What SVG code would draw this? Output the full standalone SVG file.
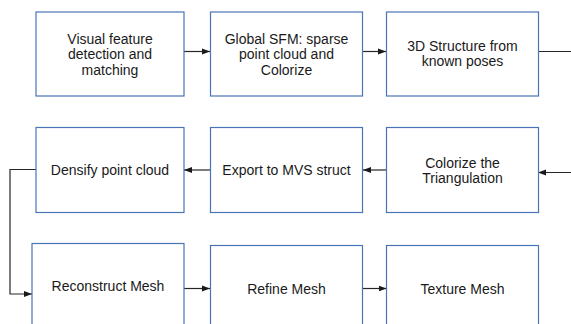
<svg xmlns="http://www.w3.org/2000/svg" width="571" height="324" viewBox="0 0 571 324">
<style>
.box{fill:#fff;stroke:#4a74b8;stroke-width:1.2}
.t{font-family:"Liberation Sans",Arial,sans-serif;font-size:14px;fill:#1a1a1a;text-anchor:middle}
.c{fill:none;stroke:#262626;stroke-width:1.2}
</style>
<defs>
<marker id="ah" markerUnits="userSpaceOnUse" markerWidth="8" markerHeight="8" viewBox="0 0 8 8" refX="8" refY="4" orient="auto">
<path d="M0,1 L8,4 L0,7 Z" fill="#1a1a1a"/>
</marker>
</defs>
<rect width="571" height="324" fill="#fff"/>
<g id="connectors">
<path class="c" d="M184,51.5 H210" marker-end="url(#ah)"/>
<path class="c" d="M363,51.5 H386" marker-end="url(#ah)"/>
<path class="c" d="M538,51.5 H571"/>
<path class="c" d="M571,172.5 H538" marker-end="url(#ah)"/>
<path class="c" d="M386,170 H363" marker-end="url(#ah)"/>
<path class="c" d="M210,170 H184" marker-end="url(#ah)"/>
<path class="c" d="M36,169.5 H10 V294 H32" marker-end="url(#ah)"/>
<path class="c" d="M184,288.5 H210" marker-end="url(#ah)"/>
<path class="c" d="M362,288.5 H386.5" marker-end="url(#ah)"/>
</g>
<g id="n1"><rect class="box" x="36" y="12" width="148" height="84"/>
<text class="t" x="110" y="43.5">Visual feature</text><text class="t" x="110" y="59">detection and</text><text class="t" x="110" y="74.5">matching</text></g>
<g id="n2"><rect class="box" x="210.5" y="12" width="152" height="84"/>
<text class="t" x="286.5" y="43.5">Global SFM: sparse</text><text class="t" x="286.5" y="59">point cloud and</text><text class="t" x="286.5" y="74.5">Colorize</text></g>
<g id="n3"><rect class="box" x="386.5" y="12" width="152" height="84"/>
<text class="t" x="462.5" y="50.5">3D Structure from</text><text class="t" x="462.5" y="66">known poses</text></g>
<g id="n4"><rect class="box" x="36" y="127.5" width="148" height="85"/>
<text class="t" x="110" y="175">Densify point cloud</text></g>
<g id="n5"><rect class="box" x="210.5" y="127.5" width="152" height="85"/>
<text class="t" x="286.5" y="175">Export to MVS struct</text></g>
<g id="n6"><rect class="box" x="386.5" y="127.5" width="152" height="85"/>
<text class="t" x="462.5" y="167.5">Colorize the</text><text class="t" x="462.5" y="183">Triangulation</text></g>
<g id="n7"><rect class="box" x="32" y="243.5" width="152" height="100"/>
<text class="t" x="108" y="291">Reconstruct Mesh</text></g>
<g id="n8"><rect class="box" x="210.5" y="245.5" width="152" height="100"/>
<text class="t" x="286.5" y="293.5">Refine Mesh</text></g>
<g id="n9"><rect class="box" x="386.5" y="245.5" width="152" height="100"/>
<text class="t" x="462.5" y="293.5">Texture Mesh</text></g>
</svg>
